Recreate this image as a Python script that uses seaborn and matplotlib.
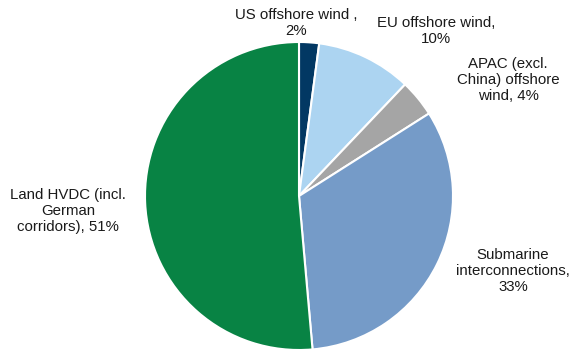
import matplotlib
matplotlib.use("Agg")
import matplotlib.pyplot as plt
import seaborn as sns

categories = ["US offshore wind ,\n2%", "EU offshore wind,\n10%",
              "APAC (excl.\nChina) offshore\nwind, 4%",
              "Submarine\ninterconnections,\n33%",
              "Land HVDC (incl.\nGerman\ncorridors), 51%"]
values = [2.1, 10.0, 3.9, 32.6, 51.4]
colors = ["#023863", "#acd4f1", "#a5a5a5", "#759bc8", "#088344"]

# label anchor positions in pixels (from top-left)
label_pos = [(296, 23), (436, 31), (508, 80), (513, 271), (68, 211)]

sns.set_theme(style="white")
plt.rcParams['font.family'] = ['Liberation Sans', 'DejaVu Sans']

W, H = 576, 352
fig = plt.figure(figsize=(W / 100, H / 100), dpi=100)
ax = fig.add_axes([0, 0, 1, 1])
palette = sns.color_palette(colors)

cx, cy, r = 299, H - 196, 154
ax.pie(values, colors=palette, startangle=90, counterclock=False,
       center=(cx, cy), radius=r,
       wedgeprops=dict(edgecolor="white", linewidth=1.5))
ax.set_xlim(0, W)
ax.set_ylim(0, H)
ax.set_aspect("equal")
ax.axis("off")

for lab, (x, y) in zip(categories, label_pos):
    ax.text(x, H - y, lab, ha="center", va="center", fontsize=10.8,
            color="#1a1a1a", linespacing=1.15)

fig.savefig("out.png", dpi=100, facecolor="white")
